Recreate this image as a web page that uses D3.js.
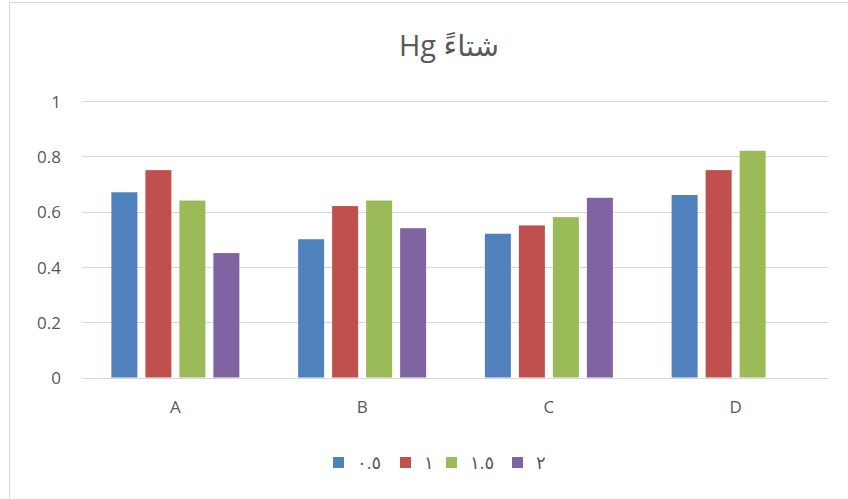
<!DOCTYPE html>
<html>
<head>
<meta charset="utf-8">
<script src="https://cdn.jsdelivr.net/npm/d3@7"></script>
<style>
  html, body { margin: 0; padding: 0; background: #fff; }
  svg { display: block; }
  svg text { font-family: "Open Sans", "DejaVu Sans", sans-serif; }
</style>
</head>
<body>
<svg id="chart" width="848" height="499"></svg>
<script>
// Mercury (Hg) readings, winter season, by site and dose
const categories = ["A", "B", "C", "D"];
const seriesNames = ["٠.٥", "١", "١.٥", "٢"];
const seriesColors = ["#4F81BD", "#C0504D", "#9BBB59", "#8064A2"];
const s05 = [0.67, 0.50, 0.52, 0.66];
const s1  = [0.75, 0.62, 0.55, 0.75];
const s15 = [0.64, 0.64, 0.58, 0.82];
const s2  = [0.45, 0.54, 0.65, null];
const yTicks = [0, 0.2, 0.4, 0.6, 0.8, 1];
const yTickLabels = ["0", "0.2", "0.4", "0.6", "0.8", "1"];
const titleText = "Hg شتاءً";

const seriesValues = [s05, s1, s15, s2];

const svg = d3.select("#chart");
const W = 848, H = 499;
const plot = { left: 82, right: 829, top: 101, bottom: 377.5 };
const textColor = "#595959";
const fontFamily = "'Open Sans', 'DejaVu Sans', sans-serif";

// chart frame
svg.append("rect")
  .attr("x", 9.5).attr("y", 2.5)
  .attr("width", W + 20).attr("height", H + 20)
  .attr("fill", "#fff").attr("stroke", "#d9d9d9").attr("stroke-width", 1);

const x0 = d3.scaleBand().domain(categories).range([plot.left, plot.right]).padding(0);
const groupW = 128;
const x1 = d3.scaleBand().domain(d3.range(seriesNames.length))
  .range([(x0.bandwidth() - groupW) / 2, (x0.bandwidth() + groupW) / 2])
  .paddingInner(8 / 34).paddingOuter(0);
const y = d3.scaleLinear().domain([0, 1]).range([plot.bottom, plot.top]);

// gridlines
svg.append("g").selectAll("line").data(yTicks).join("line")
  .attr("x1", plot.left).attr("x2", plot.right)
  .attr("y1", d => Math.round(y(d)) + 0.5).attr("y2", d => Math.round(y(d)) + 0.5)
  .attr("stroke", "#d9d9d9").attr("stroke-width", 1);

// y axis labels
const yAxis = d3.axisLeft(y).tickValues(yTicks)
  .tickFormat((d, i) => yTickLabels[i]).tickSize(0).tickPadding(0);
svg.append("g").attr("transform", `translate(${plot.left - 21},0)`).call(yAxis)
  .attr("font-family", fontFamily)
  .call(g => g.select(".domain").remove())
  .call(g => g.selectAll("text").attr("fill", textColor).attr("font-size", 17)
    .attr("dy", "0.36em"));

// bars
const groups = svg.append("g").selectAll("g").data(categories).join("g")
  .attr("transform", d => `translate(${x0(d)},0)`);
groups.selectAll("rect")
  .data((c, ci) => seriesValues.map((vals, si) => ({ si, v: vals[ci] })).filter(d => d.v != null))
  .join("rect")
  .attr("x", d => x1(d.si))
  .attr("width", x1.bandwidth())
  .attr("y", d => y(d.v))
  .attr("height", d => y(0) - y(d.v))
  .attr("fill", d => seriesColors[d.si]);

// category axis labels
const xAxis = d3.axisBottom(x0).tickSize(0).tickPadding(0);
svg.append("g").attr("transform", `translate(0,${plot.bottom + 23})`).call(xAxis)
  .attr("font-family", fontFamily)
  .call(g => g.select(".domain").remove())
  .call(g => g.selectAll("text").attr("fill", textColor).attr("font-size", 17)
    .attr("dy", "0.71em"));

// title
svg.append("text")
  .attr("x", 449).attr("y", 56)
  .attr("text-anchor", "middle")
  .attr("fill", textColor).attr("font-size", 29)
  .text(titleText);

// legend
const legendX = [333, 400, 446, 512];
const legend = svg.append("g").selectAll("g").data(seriesNames).join("g")
  .attr("transform", (d, i) => `translate(${legendX[i]},457)`);
legend.append("rect").attr("width", 11).attr("height", 11)
  .attr("fill", (d, i) => seriesColors[i]);
legend.append("text").attr("x", 24).attr("y", 6).attr("dy", "0.36em")
  .attr("fill", textColor).attr("font-size", 18)
  .text(d => d);
</script>
</body>
</html>
